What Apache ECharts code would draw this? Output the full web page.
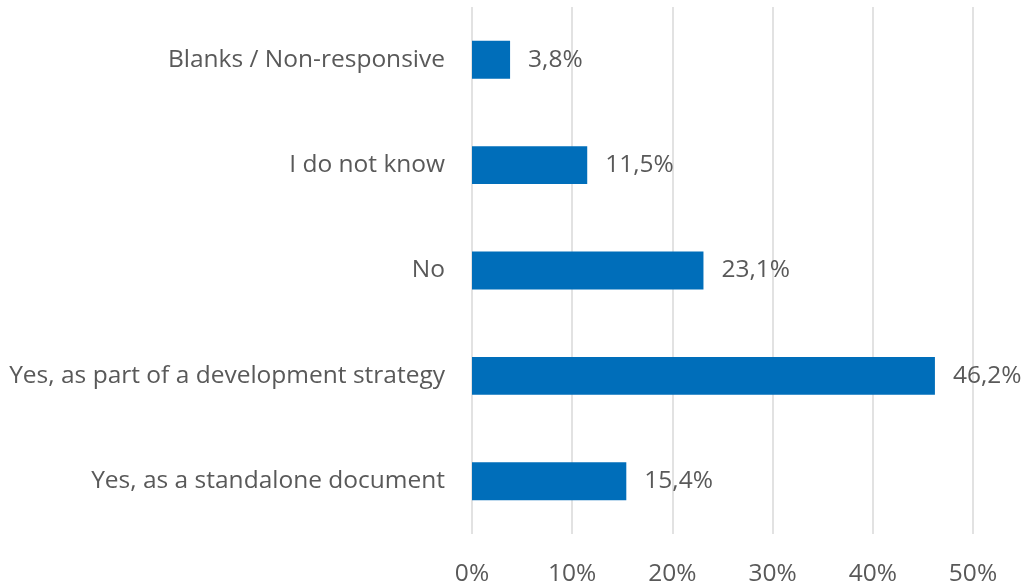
<!DOCTYPE html>
<html>
<head>
<meta charset="utf-8">
<script src="https://cdn.jsdelivr.net/npm/echarts@6/dist/echarts.min.js"></script>
<style>
  html, body { margin: 0; padding: 0; background: #fff; }
  #chart { width: 1025px; height: 587px; }
</style>
</head>
<body>
<div id="chart"></div>
<script>
// Survey answers, listed bottom to top as drawn on the category axis
const categories = [
  'Yes, as a standalone document',
  'Yes, as part of a development strategy',
  'No',
  'I do not know',
  'Blanks / Non-responsive'
];
const shares = [15.4, 46.2, 23.1, 11.5, 3.8];
const xTicks = [0, 10, 20, 30, 40, 50];

const textColor = '#595959';
const fontFamily = '"Open Sans", sans-serif';
const fontSize = 24.5;

const chart = echarts.init(document.getElementById('chart'));
chart.setOption({
  animation: false,
  grid: { left: 472, right: 52, top: 7, bottom: 53 },
  xAxis: {
    type: 'value',
    min: xTicks[0],
    max: xTicks[xTicks.length - 1],
    interval: 10,
    axisLine: { show: false },
    axisTick: { show: false },
    splitLine: { lineStyle: { color: '#d9d9d9', width: 1.5 } },
    axisLabel: {
      color: textColor, fontFamily, fontSize, margin: 28,
      formatter: v => v + '%'
    }
  },
  yAxis: {
    type: 'category',
    data: categories,
    axisLine: { show: false },
    axisTick: { show: false },
    axisLabel: { color: textColor, fontFamily, fontSize, margin: 27 }
  },
  series: [{
    type: 'bar',
    data: shares,
    barWidth: '36%',
    itemStyle: { color: '#006EBA' },
    label: {
      show: true,
      position: 'right',
      distance: 18,
      color: textColor,
      fontFamily,
      fontSize,
      formatter: p => p.value.toFixed(1).replace('.', ',') + '%'
    }
  }]
});
</script>
</body>
</html>
